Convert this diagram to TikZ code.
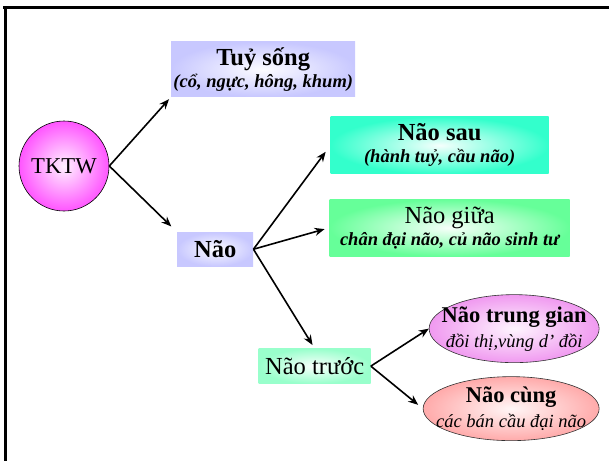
\documentclass[tikz,border=0pt]{standalone}
\usepackage{fontspec}
\setmainfont{Liberation Serif}
\usepackage{xcolor}
\definecolor{spinecolor}{HTML}{C8C8FF}
\definecolor{hindcolor}{HTML}{33FFCC}
\definecolor{midcolor}{HTML}{66FF99}
\definecolor{forecolor}{HTML}{99FFCC}
\definecolor{rootcolor}{HTML}{FF55FF}
\definecolor{intercolor}{HTML}{F099F0}
\definecolor{endcolor}{HTML}{FFAAAA}
\usetikzlibrary{positioning,arrows.meta,shapes.geometric}
\newcommand{\titlesize}{\fontsize{24.5}{22}\selectfont}
\newcommand{\subsize}{\fontsize{18.5}{22}\selectfont}
\tikzset{
    box/.style={
        rectangle,
        shading=radial,
        inner color=#1!5!white,
        outer color=#1,
        text=black,
        align=center,
        inner sep=0pt,
        font=\titlesize,
    },
    oval/.style={
        ellipse,
        draw=black!80,
        line width=0.6pt,
        shading=radial,
        inner color=#1!10!white,
        outer color=#1,
        text=black,
        align=center,
        inner xsep=-22pt,
        inner ysep=0pt,
        font=\fontsize{22.5}{25}\selectfont,
    },
    arrow/.style={
        -{Stealth[length=10pt,width=8pt]},
        line width=1.6pt,
        black,
    },
    frame/.style={
        line width=3pt,
        black,
    },
}
\begin{document}
\begin{tikzpicture}[x=1pt,y=-1pt]
    \useasboundingbox (0,0) rectangle (609,461);

    % Frame (top and left edges)
    \draw[frame] (3,7) -- (609,7);
    \draw[frame] (5,7) -- (5,461);

    % Root
    \node[circle, draw=black, line width=0.6pt, shading=radial,
          inner color=rootcolor!8!white, outer color=rootcolor,
          minimum size=90pt, inner sep=0pt, font=\fontsize{22.7}{24}\selectfont]
          (tktw) at (64,166) {TKTW};

    % Spinal cord
    \node[box=spinecolor, above right=37pt and 75pt of tktw,
          minimum width=184pt, minimum height=55pt] (tuy) {
        {\bfseries Tuỷ sống}\\
        {\subsize\bfseries\itshape (cổ, ngực, hông, khum)}
    };

    % Brain
    \node[box=spinecolor, below right=34pt and 81pt of tktw,
          minimum width=76pt, minimum height=34pt] (nao) {\bfseries Não};

    % Hindbrain
    \node[box=hindcolor, above right=58pt and 77pt of nao,
          minimum width=218pt, minimum height=57pt] (naosau) {
        {\bfseries Não sau}\\
        {\subsize\bfseries\itshape (hành tuỷ, cầu não)}
    };

    % Midbrain
    \node[box=midcolor, right=76pt of nao, yshift=21.5pt,
          minimum width=240pt, minimum height=57pt] (naogiua) {
        Não giữa\\
        {\subsize\bfseries\itshape chân đại não, củ não sinh tư}
    };

    % Forebrain
    \node[box=forecolor, below right=82pt and 5pt of nao,
          minimum width=112pt, minimum height=35pt] (naotruoc) {Não trước};

    % Forebrain parts
    \node[oval=intercolor, right=58pt of naotruoc, yshift=37.5pt,
          minimum width=170pt, minimum height=68pt] (trunggian) {
        {\bfseries Não trung gian}\\
        {\subsize\itshape đồi thị,vùng d’ đồi}
    };
    \node[oval=endcolor, right=52pt of naotruoc, yshift=-42.5pt,
          minimum width=176pt, minimum height=64pt] (cung) {
        {\bfseries Não cùng}\\
        {\subsize\itshape các bán cầu đại não}
    };

    % Connections
    \draw[arrow, shorten >=3pt] (tktw.east) -- (tuy.south west);
    \draw[arrow, shorten >=8pt] (tktw.east) -- (nao.north west);
    \draw[arrow, shorten >=8pt] (nao.east) -- (naosau.west);
    \draw[arrow, shorten >=5pt] (nao.east) -- (naogiua.west);
    \draw[arrow, shorten >=4pt] (nao.east) -- (naotruoc.north);
    \draw[arrow] (naotruoc.east) -- (trunggian.west);
    \draw[arrow, shorten >=6pt] (naotruoc.east) -- (cung.west);

\end{tikzpicture}
\end{document}
